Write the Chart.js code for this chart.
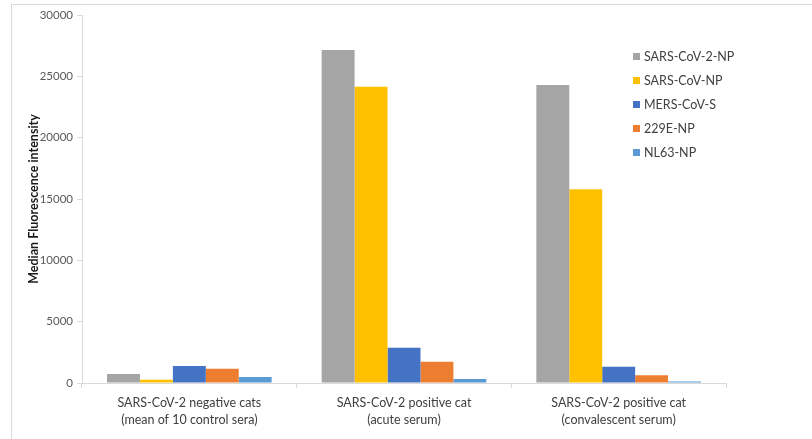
<!DOCTYPE html>
<html>
<head>
<meta charset="utf-8">
<script src="https://cdn.jsdelivr.net/npm/chart.js@4/dist/chart.umd.min.js"></script>
<style>
  body { margin: 0; background: #fff; }
  #wrap { position: relative; width: 812px; height: 439px; overflow: hidden; }
  #frame { position: absolute; left: 11px; top: 4px; width: 900px; height: 600px;
           border-left: 1px solid #d9d9d9; border-top: 1px solid #d9d9d9; }
  #legend { position: absolute; left: 633px; top: 45px; font-family: Lato, "Open Sans", sans-serif;
            font-size: 12.5px; color: #404040; }
  #legend div { height: 24px; line-height: 24px; white-space: nowrap; }
  #legend span { display: inline-block; width: 7px; height: 7px; margin-right: 4px; vertical-align: 1px; }
  canvas { position: absolute; left: 0; top: 0; }
</style>
</head>
<body>
<div id="wrap">
  <div id="frame"></div>
  <canvas id="chart" width="812" height="439"></canvas>
  <div id="legend"></div>
</div>
<script>
// Kategorier (to linjer hver)
const categories = [
    ['SARS-CoV-2 negative cats', '(mean of 10 control sera)'],
    ['SARS-CoV-2 positive cat', '(acute serum)'],
    ['SARS-CoV-2 positive cat', '(convalescent serum)']
];

const seriesNames = ['SARS-CoV-2-NP', 'SARS-CoV-NP', 'MERS-CoV-S', '229E-NP', 'NL63-NP'];

// Aflæste værdier
const sarsCov2NP = [740, 27150, 24300];
const sarsCovNP = [270, 24150, 15800];
const mersCovS = [1390, 2880, 1330];
const np229E = [1170, 1740, 630];
const nl63NP = [490, 330, 130];

const yTicks = [0, 5000, 10000, 15000, 20000, 25000, 30000];

const colors = ['#A5A5A5', '#FFC000', '#4472C4', '#ED7D31', '#5B9BD5'];
const values = [sarsCov2NP, sarsCovNP, mersCovS, np229E, nl63NP];

const datasets = seriesNames.map(function(name, i) {
    return {
        label: name,
        data: values[i],
        backgroundColor: colors[i],
        borderWidth: 0,
        categoryPercentage: 0.767,
        barPercentage: 1.0
    };
});

const axisFont = { family: 'Lato, "Open Sans", sans-serif', size: 11.5 };

const chart = new Chart(document.getElementById('chart'), {
    type: 'bar',
    data: { labels: categories, datasets: datasets },
    options: {
        responsive: false,
        animation: false,
        layout: { padding: { top: 15, right: 86, bottom: 0, left: 0 } },
        plugins: {
            legend: { display: false },
            tooltip: { enabled: false }
        },
        scales: {
            x: {
                grid: { display: true, drawOnChartArea: false, drawTicks: true, tickLength: 5, color: '#d9d9d9', offset: true },
                border: { color: '#d9d9d9' },
                ticks: { color: '#404040', padding: 6, maxRotation: 0,
                         font: { family: 'Lato, "Open Sans", sans-serif', size: 12.5, lineHeight: 1.4 } },
                afterFit: function(scale) { scale.height = 56; }
            },
            y: {
                min: 0,
                max: 30000,
                afterBuildTicks: function(scale) {
                    scale.ticks = yTicks.map(function(v) { return { value: v }; });
                },
                grid: { drawOnChartArea: false, drawTicks: true, tickLength: 5, color: '#d9d9d9' },
                border: { color: '#d9d9d9' },
                ticks: {
                    color: '#595959', padding: 4, font: axisFont,
                    callback: function(value) { return String(value); }
                },
                title: {
                    display: true,
                    text: 'Median Fluorescence intensity',
                    color: '#1a1a1a',
                    padding: { top: 26, bottom: 0 },
                    font: { family: 'Lato, "Open Sans", sans-serif', size: 12.5, weight: 'bold' }
                },
                afterFit: function(scale) { scale.width = 82; }
            }
        }
    }
});

// HTML-forklaring
const legend = document.getElementById('legend');
seriesNames.forEach(function(name, i) {
    const row = document.createElement('div');
    const box = document.createElement('span');
    box.style.background = colors[i];
    row.appendChild(box);
    row.appendChild(document.createTextNode(name));
    legend.appendChild(row);
});
</script>
</body>
</html>
